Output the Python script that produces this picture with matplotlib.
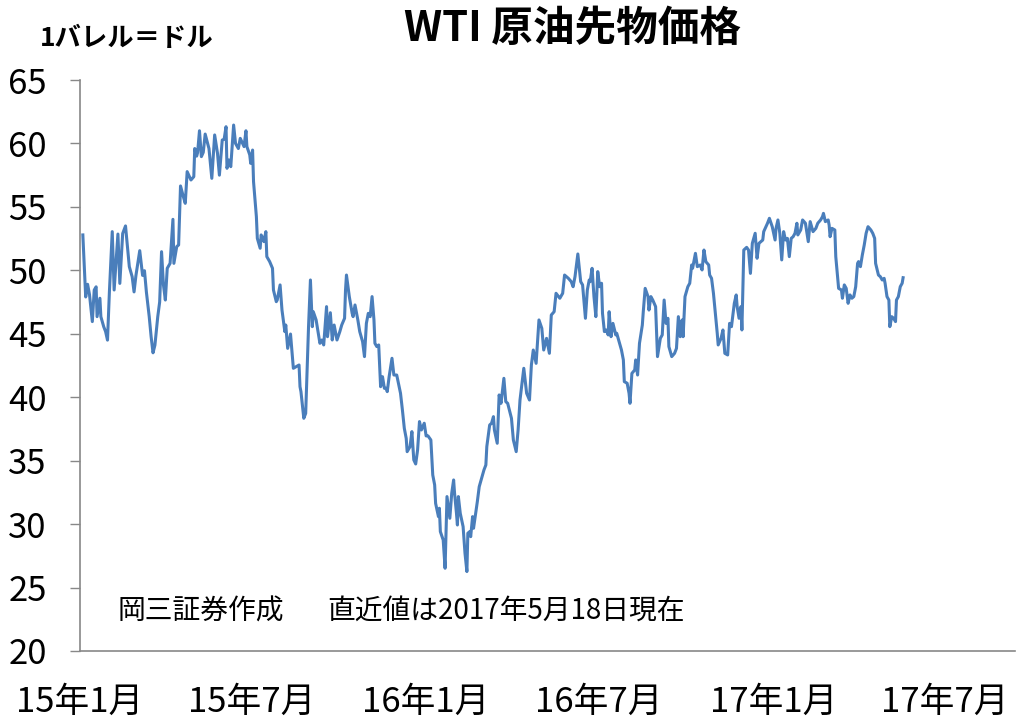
import matplotlib
matplotlib.use("Agg")
import matplotlib.pyplot as plt
import matplotlib.dates as mdates
import pandas as pd

plt.rcParams['font.family'] = ['Noto Sans CJK JP', 'DejaVu Sans']

# ---- data ----
base_date = "2015-01-01"
days_elapsed = [
    3, 6, 8, 10, 13, 15, 17, 18, 21, 22, 25, 27, 29, 31, 34, 36, 40, 42, 45, 48,
    52, 55, 57, 59, 63, 66, 68, 70, 73, 75, 77, 79, 82, 84, 86, 88, 90, 92, 95, 98,
    99, 102, 104, 106, 109, 111, 113, 117, 120, 121, 123, 124, 126, 128, 130, 132, 136, 139, 142, 145,
    147, 150, 152, 154, 155, 157, 159, 162, 164, 167, 169, 173, 175, 176, 179, 180, 182, 183, 186, 187,
    190, 191, 193, 194, 196, 197, 200, 203, 204, 207, 208, 211, 213, 216, 217, 219, 222, 224, 225, 228,
    231, 232, 233, 236, 238, 241, 243, 245, 246, 249, 253, 255, 257, 260, 261, 264, 266, 268, 271, 274,
    276, 279, 280, 281, 284, 287, 288, 290, 293, 295, 298, 300, 302, 304, 306, 308, 310, 311, 313, 315,
    317, 319, 321, 323, 324, 326, 329, 331, 334, 336, 338, 340, 342, 344, 345, 348, 350, 352, 354, 356,
    358, 360, 363, 365, 367, 370, 372, 374, 375, 378, 379, 380, 383, 385, 387, 390, 392, 394, 395, 397,
    398, 399, 401, 404, 406, 408, 409, 411, 412, 414, 415, 417, 419, 421, 423, 426, 428, 429, 432, 434,
    436, 437, 440, 442, 444, 447, 449, 451, 455, 457, 460, 462, 464, 468, 471, 474, 476, 478, 481, 484,
    487, 489, 492, 495, 497, 500, 502, 506, 509, 511, 515, 518, 520, 522, 525, 528, 530, 533, 535, 537,
    538, 540, 542, 544, 546, 548, 550, 551, 553, 555, 557, 558, 560, 562, 565, 566, 568, 571, 573, 574,
    577, 579, 580, 582, 585, 586, 588, 590, 593, 594, 596, 599, 600, 602, 604, 607, 609, 612, 614, 616,
    618, 620, 621, 624, 627, 629, 631, 633, 635, 636, 638, 641, 643, 645, 646, 649, 651, 654, 656, 658,
    660, 663, 664, 666, 668, 670, 672, 673, 676, 678, 680, 683, 685, 687, 690, 692, 693, 695, 697, 698,
    700, 703, 705, 707, 709, 712, 714, 716, 720, 721, 725, 727, 730, 733, 734, 736, 738, 740, 742, 744,
    746, 748, 750, 752, 754, 756, 757, 760, 762, 765, 768, 770, 773, 776, 778, 781, 783, 784, 786, 789,
    790, 791, 793, 796, 797, 800, 803, 804, 806, 808, 810, 812, 814, 816, 818, 820, 821, 823, 825, 827,
    829, 831, 834, 836, 838, 839, 842, 844, 846, 848, 849, 851, 853, 854, 856, 858, 860, 861, 863, 865,
    867, 868,
]
wti_price = [
    52.79, 47.90, 48.90, 48.10, 45.96, 48.45, 48.70, 46.35, 47.80, 46.35, 45.56, 45.17, 44.50, 48.30, 53.05, 48.45, 52.86, 48.97, 52.90, 53.50,
    50.29, 49.50, 48.30, 49.60, 51.55, 49.60, 49.97, 48.30, 46.35, 44.77, 43.50, 44.10, 46.35, 47.50, 51.47, 48.85, 47.66, 50.16, 50.55, 54.02,
    50.55, 51.87, 52.00, 56.65, 55.80, 55.28, 57.78, 57.12, 57.38, 59.60, 59.00, 59.27, 61.00, 58.96, 59.30, 60.74, 59.60, 57.25, 60.67, 59.22,
    57.50, 60.27, 60.33, 61.32, 58.04, 58.70, 58.17, 61.45, 60.00, 59.60, 60.40, 59.75, 61.00, 59.75, 59.10, 58.43, 59.48, 56.99, 54.23, 52.52,
    51.74, 52.79, 52.52, 52.26, 53.05, 51.08, 50.69, 50.16, 48.45, 47.53, 47.66, 48.85, 46.87, 45.17, 45.69, 43.85, 44.98, 43.20, 42.28, 42.41,
    42.54, 40.83, 40.44, 38.34, 38.73, 45.56, 49.24, 45.56, 46.74, 46.09, 44.25, 44.51, 44.12, 47.14, 44.77, 46.66, 44.51, 45.69, 44.51, 45.17,
    45.69, 46.22, 48.45, 49.63, 47.93, 46.61, 46.35, 47.27, 46.09, 45.17, 44.38, 43.20, 45.82, 46.61, 46.35, 47.93, 46.09, 44.25, 43.99, 44.12,
    40.83, 41.62, 40.70, 40.70, 40.44, 41.62, 43.07, 41.75, 41.75, 41.04, 40.31, 38.99, 37.55, 36.76, 35.71, 36.10, 37.29, 35.06, 34.74, 35.84,
    38.08, 37.42, 37.95, 36.95, 36.95, 36.63, 33.87, 33.09, 31.64, 30.59, 31.25, 29.41, 28.75, 26.52, 32.17, 30.46, 32.43, 33.48, 32.43, 30.85,
    29.93, 32.17, 30.85, 29.80, 27.70, 26.26, 29.28, 29.41, 29.01, 30.59, 29.67, 30.72, 31.77, 32.95, 33.48, 34.27, 34.66, 36.11, 37.81, 37.95,
    38.47, 37.42, 36.37, 40.18, 39.52, 41.49, 39.65, 39.52, 38.34, 36.63, 35.71, 37.42, 39.78, 42.28, 40.31, 39.78, 42.54, 43.72, 42.67, 46.09,
    45.43, 43.72, 44.64, 43.46, 46.48, 46.74, 48.19, 47.80, 48.19, 49.63, 49.37, 49.11, 48.71, 49.50, 51.29, 49.11, 48.85, 46.22, 48.45, 49.24,
    49.11, 50.16, 47.93, 46.35, 49.90, 48.71, 48.98, 46.61, 45.17, 45.30, 44.91, 46.74, 44.77, 45.82, 44.91, 45.04, 44.51, 43.72, 42.94, 41.23,
    41.10, 40.31, 39.52, 41.88, 42.15, 42.94, 41.75, 44.25, 45.69, 46.74, 48.58, 47.93, 46.87, 47.93, 47.66, 47.14, 43.20, 44.64, 44.91, 47.66,
    45.82, 46.22, 43.99, 43.20, 43.46, 43.85, 46.35, 44.77, 46.09, 44.77, 47.93, 48.71, 48.98, 50.42, 50.16, 51.34, 50.29, 50.42, 50.03, 51.60,
    50.68, 50.42, 49.63, 49.37, 48.19, 46.61, 45.04, 44.12, 44.64, 45.30, 43.46, 43.33, 45.82, 45.56, 47.40, 48.06, 47.14, 46.22, 47.14, 45.30,
    51.60, 51.81, 51.60, 49.76, 52.13, 52.92, 50.95, 52.13, 52.39, 53.05, 53.71, 54.10, 53.44, 52.39, 53.31, 53.97, 52.92, 50.82, 53.05, 52.39,
    52.52, 51.08, 52.52, 52.65, 52.92, 53.71, 52.79, 53.18, 53.97, 53.71, 52.26, 53.84, 53.05, 53.31, 53.71, 53.97, 54.23, 54.49, 53.84, 53.97,
    53.57, 52.65, 53.31, 53.18, 51.08, 48.58, 48.45, 47.80, 48.85, 48.58, 47.40, 48.06, 47.80, 47.93, 48.71, 50.55, 50.69, 50.29, 51.21, 51.99,
    52.92, 53.44, 53.18, 52.92, 52.52, 50.55, 49.63, 49.50, 49.24, 49.37, 48.98, 47.93, 47.66, 45.56, 46.35, 46.22, 45.96, 47.66, 47.93, 48.71,
    48.98, 49.42,
]
tick_dates = ["2015-01-01", "2015-07-01", "2016-01-01", "2016-07-01", "2017-01-01", "2017-07-01"]
tick_labels = ["15年1月", "15年7月", "16年1月", "16年7月", "17年1月", "17年7月"]
y_ticks = [20, 25, 30, 35, 40, 45, 50, 55, 60, 65]

title_text = "WTI 原油先物価格"
unit_text = "1バレル＝ドル"
source_text = "岡三証券作成"
note_text = "直近値は2017年5月18日現在"

# ---- figure ----
dates = pd.Timestamp(base_date) + pd.to_timedelta(days_elapsed, unit="D")

W, H = 1016, 723
fig = plt.figure(figsize=(W / 100, H / 100), dpi=100)
ax = fig.add_axes([80 / W, 1 - 651 / H, (1015 - 80) / W, (651 - 80) / H])

line_color = "#4A7EBB"
ax.plot(dates, wti_price, color=line_color, linewidth=2.2, solid_joinstyle="round")

ax.set_ylim(20, 65)
ax.set_yticks(y_ticks)
ax.set_xlim(pd.Timestamp("2015-01-03"), pd.Timestamp("2017-09-13"))
ax.set_xticks(pd.to_datetime(tick_dates))
ax.set_xticklabels(tick_labels)

spine_color = "#888888"
for s in ["top", "right"]:
    ax.spines[s].set_visible(False)
for s in ["left", "bottom"]:
    ax.spines[s].set_color(spine_color)
    ax.spines[s].set_linewidth(1.2)

ax.tick_params(axis="y", direction="out", length=7, width=1.0, color=spine_color,
               labelsize=25, pad=17, labelcolor="black")
ax.tick_params(axis="x", length=0, labelsize=25, pad=24, labelcolor="black")
ax.grid(False)

fig.text(573 / W, 1 - 29 / H, title_text, ha="center", va="center",
         fontsize=30, fontweight="bold")
fig.text(40 / W, 1 - 38 / H, unit_text, ha="left", va="center",
         fontsize=19, fontweight="bold")
fig.text(118 / W, 1 - 612 / H, source_text, ha="left", va="center", fontsize=20)
fig.text(327 / W, 1 - 612 / H, note_text, ha="left", va="center", fontsize=20)

fig.savefig("out.png", dpi=100)
